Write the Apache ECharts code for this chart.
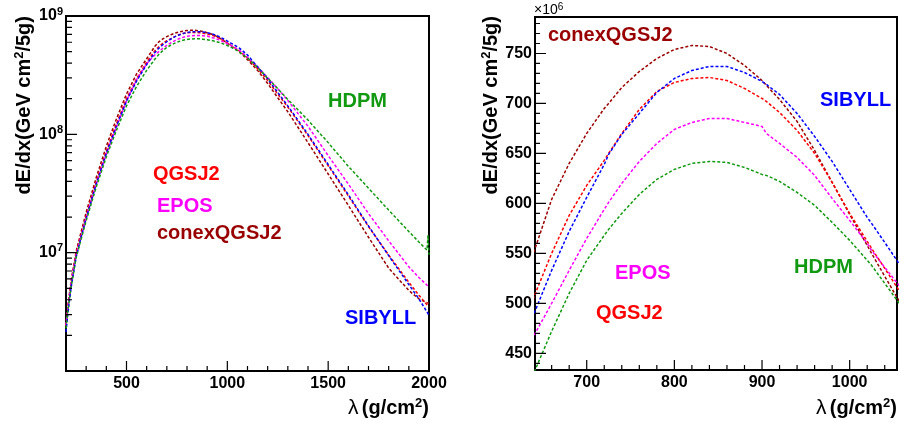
<!DOCTYPE html>
<html>
<head>
<meta charset="utf-8">
<script src="https://cdn.jsdelivr.net/npm/echarts@6/dist/echarts.min.js"></script>
<style>
  html, body { margin: 0; padding: 0; background: #fff; }
  #chart { width: 901px; height: 429px; }
</style>
</head>
<body>
<div id="chart"></div>
<script>
// Slant depth (g/cm^2) at which every profile is sampled
const lambda = [200, 210, 225, 250, 275, 300, 350, 400, 450, 500, 550, 600,
  640, 660, 680, 700, 720, 725, 740, 760, 780, 800, 820, 840, 860, 880, 900, 905,
  920, 940, 960, 980, 1000, 1020, 1025, 1040, 1060, 1100, 1150, 1200, 1250, 1300,
  1400, 1500, 1600, 1700, 1800, 1900, 1950, 1990, 1995, 2000];

// Energy deposit dE/dx per model, in units of 1e6 GeV cm^2/5g
const conexQGSJ2 = [2.45, 3.59, 5.75, 10.2, 15.0, 21.9, 43.2, 79.4, 135, 219, 324, 435,
  552, 604, 640, 670, 695, 700, 716, 732, 745, 754, 758, 757, 750, 738, 723, 718,
  704, 682, 653, 621, 589, 558, 550, 527, 497, 427, 347, 269, 204, 155,
  85.1, 46.2, 25.1, 13.5, 7.41, 4.79, 4.07, 3.78, 3.75, 3.72];
const QGSJ2 = [2.40, 3.47, 5.50, 9.77, 14.1, 20.4, 39.8, 72.4, 123, 200, 295, 407,
  507, 550, 588, 618, 643, 650, 670, 694, 712, 721, 725, 726, 723, 715, 705, 702,
  691, 673, 650, 621, 590, 562, 555, 535, 508, 442, 359, 285, 219, 170,
  97.7, 54.3, 30.2, 16.6, 9.55, 5.62, 4.37, 3.63, 3.56, 3.51];
const EPOS = [2.45, 3.51, 5.50, 9.55, 13.7, 19.7, 38.0, 68.4, 115, 192, 290, 395,
  468, 500, 533, 565, 594, 601, 620, 642, 660, 674, 681, 685, 685, 681, 677, 670,
  660, 646, 628, 605, 583, 560, 553, 536, 514, 447, 372, 302, 243, 193,
  117, 66.1, 38.0, 21.4, 12.6, 7.59, 6.17, 5.32, 5.22, 5.13];
const SIBYLL = [2.14, 3.13, 5.01, 9.12, 13.5, 19.5, 38.0, 69.2, 117, 191, 282, 389,
  490, 533, 572, 606, 639, 649, 669, 690, 711, 725, 733, 737, 737, 731, 722, 719,
  709, 690, 667, 642, 614, 586, 580, 561, 535, 468, 372, 295, 226, 174,
  100, 55.6, 30.9, 16.8, 9.44, 5.37, 4.07, 3.16, 3.05, 2.95];
const HDPM = [2.29, 3.31, 5.13, 9.02, 13.0, 18.6, 35.9, 64.6, 108, 174, 254, 347,
  431, 472, 510, 543, 568, 574, 590, 609, 624, 634, 640, 642, 641, 636, 629, 628,
  622, 611, 598, 581, 563, 543, 538, 520, 496, 442, 367, 299, 243, 197,
  132, 85.1, 53.7, 35.1, 22.9, 15.1, 12.3, 10.5, 14.0, 9.6];

// Tick values (left y axis in units of 1e6)
const leftXTicks = [500, 1000, 1500, 2000];
const leftXMinor = [300, 400, 600, 700, 800, 900, 1100, 1200, 1300, 1400, 1600, 1700, 1800, 1900];
const leftYTicks = [10, 100, 1000];
const leftYMinor = [2, 3, 4, 5, 6, 7, 8, 9, 20, 30, 40, 50, 60, 70, 80, 90,
  200, 300, 400, 500, 600, 700, 800, 900];
const rightXTicks = [700, 800, 900, 1000];
const rightXMinor = [660, 680, 720, 740, 760, 780, 820, 840, 860, 880, 920, 940, 960, 980, 1020, 1040];
const rightYTicks = [450, 500, 550, 600, 650, 700, 750];
const rightYMinor = [440, 460, 470, 480, 490, 510, 520, 530, 540, 560, 570, 580, 590,
  610, 620, 630, 640, 660, 670, 680, 690, 710, 720, 730, 740, 760, 770, 780];

const FONT = "'Liberation Sans', Arial, Helvetica, sans-serif";

// panel layout and axis ranges
const L = { left: 66, top: 16, width: 363, height: 355, xMin: 200, xMax: 2000, yMin: 1, yMax: 1000 };
const R = { left: 535, top: 17, width: 362, height: 353, xMin: 641, xMax: 1054, yMin: 433.3, yMax: 786.5 };

const models = [
  { name: 'conexQGSJ2', values: conexQGSJ2, color: '#990000' },
  { name: 'QGSJ2', values: QGSJ2, color: '#ff0000' },
  { name: 'EPOS', values: EPOS, color: '#ff00ff' },
  { name: 'SIBYLL', values: SIBYLL, color: '#0000ff' },
  { name: 'HDPM', values: HDPM, color: '#119911' }
];

const labelStyle = { fontFamily: FONT, fontWeight: 'bold', fontSize: 16, color: '#000', formatter: (v) => String(v) };
const frameLine = { show: true, onZero: false, lineStyle: { color: '#000', width: 2 } };

function profileSeries(m, xi, yi) {
  return {
    type: 'line', name: m.name, xAxisIndex: xi, yAxisIndex: yi,
    data: lambda.map((x, i) => [x, m.values[i]]),
    showSymbol: false, symbol: 'none', smooth: false, clip: true,
    silent: true,
    lineStyle: { color: m.color, width: 1.5, type: [3, 2] }
  };
}

// Inward tick marks drawn as short segments in data space.
// ext(base, px) returns the data value lying px pixels inward from base.
function tickSeries(xi, yi, side, values, base, ext, len) {
  const data = [];
  values.forEach(v => {
    if (side === 'bottom') data.push([v, base], [v, ext(base, len)], [v, '-']);
    else data.push([base, v], [ext(base, len), v], ['-', v]);
  });
  return {
    type: 'line', xAxisIndex: xi, yAxisIndex: yi, data, silent: true, clip: false, z: 5,
    showSymbol: false, symbol: 'none', connectNulls: false,
    lineStyle: { color: '#000', width: 1.2 }
  };
}
const leftXExt = (b, px) => b + px * (L.xMax - L.xMin) / L.width;
const leftYExt = (b, px) => b * Math.pow(10, px * Math.log10(L.yMax / L.yMin) / L.height);
const rightXExt = (b, px) => b + px * (R.xMax - R.xMin) / R.width;
const rightYExt = (b, px) => b + px * (R.yMax - R.yMin) / R.height;

const sup = (size) => ({ fontFamily: FONT, fontWeight: 'bold', fontSize: size, fill: '#000', verticalAlign: 'top', lineHeight: 12 });

function yTitle(x) {
  return {
    type: 'text', x, y: 16, rotation: Math.PI / 2,
    style: {
      text: '{b|dE/dx(GeV cm}{s|2}{b|/5g)}', align: 'right', verticalAlign: 'middle',
      rich: {
        b: { fontFamily: FONT, fontWeight: 'bold', fontSize: 20, fill: '#000', lineHeight: 22 },
        s: sup(13)
      }
    }
  };
}

function xTitle(x) {
  return {
    type: 'text', x, y: 408,
    style: {
      text: '{l|λ} {b|(g/cm}{s|2}{b|)}', align: 'right', verticalAlign: 'middle',
      rich: {
        l: { fontFamily: FONT, fontSize: 21, fill: '#000', lineHeight: 22 },
        b: { fontFamily: FONT, fontWeight: 'bold', fontSize: 20, fill: '#000', lineHeight: 22 },
        s: sup(13)
      }
    }
  };
}

function tag(text, x, y, color) {
  return {
    type: 'text', x, y,
    style: { text, fill: color, fontFamily: FONT, fontWeight: 'bold', fontSize: 20, align: 'left', verticalAlign: 'middle' }
  };
}

const colorOf = Object.fromEntries(models.map(m => [m.name, m.color]));

const option = {
  animation: false,
  backgroundColor: '#fff',
  grid: [
    { left: L.left, top: L.top, width: L.width, height: L.height, show: true, borderColor: '#000', borderWidth: 2, backgroundColor: 'transparent' },
    { left: R.left, top: R.top, width: R.width, height: R.height, show: true, borderColor: '#000', borderWidth: 2, backgroundColor: 'transparent' }
  ],
  xAxis: [
    {
      gridIndex: 0, position: 'bottom', type: 'value', min: L.xMin, max: L.xMax,
      axisLine: frameLine, splitLine: { show: false }, axisTick: { show: false },
      axisLabel: Object.assign({ customValues: leftXTicks, margin: 5 }, labelStyle)
    },
    {
      gridIndex: 1, position: 'bottom', type: 'value', min: R.xMin, max: R.xMax,
      axisLine: frameLine, splitLine: { show: false }, axisTick: { show: false },
      axisLabel: Object.assign({ customValues: rightXTicks, margin: 5 }, labelStyle)
    }
  ],
  yAxis: [
    {
      gridIndex: 0, position: 'left', type: 'log', logBase: 10, min: L.yMin, max: L.yMax,
      axisLine: frameLine, splitLine: { show: false }, axisTick: { show: false },
      axisLabel: {
        margin: 3,
        formatter: (v) => {
          const e = Math.round(Math.log10(v));
          return e <= 0 ? '' : '{b|10}{s|' + (e + 6) + '}';
        },
        rich: {
          b: { fontFamily: FONT, fontWeight: 'bold', fontSize: 16, color: '#000', lineHeight: 20 },
          s: { fontFamily: FONT, fontWeight: 'bold', fontSize: 11, color: '#000', verticalAlign: 'top', lineHeight: 12 }
        }
      }
    },
    {
      gridIndex: 1, position: 'left', type: 'value', min: R.yMin, max: R.yMax,
      axisLine: frameLine, splitLine: { show: false }, axisTick: { show: false },
      axisLabel: Object.assign({ customValues: rightYTicks, margin: 3 }, labelStyle)
    }
  ],
  series: [
    ...models.map(m => profileSeries(m, 0, 0)),
    ...models.map(m => profileSeries(m, 1, 1)),
    tickSeries(0, 0, 'bottom', leftXTicks, L.yMin, leftYExt, 10),
    tickSeries(0, 0, 'bottom', leftXMinor, L.yMin, leftYExt, 5),
    tickSeries(0, 0, 'left', leftYTicks, L.xMin, leftXExt, 11),
    tickSeries(0, 0, 'left', leftYMinor, L.xMin, leftXExt, 6),
    tickSeries(1, 1, 'bottom', rightXTicks, R.yMin, rightYExt, 10),
    tickSeries(1, 1, 'bottom', rightXMinor, R.yMin, rightYExt, 5),
    tickSeries(1, 1, 'left', rightYTicks, R.xMin, rightXExt, 11),
    tickSeries(1, 1, 'left', rightYMinor, R.xMin, rightXExt, 5)
  ],
  graphic: [
    yTitle(24), yTitle(491),
    xTitle(429), xTitle(897),
    {
      type: 'text', x: 534, y: 10,
      style: {
        text: '{m|×10}{s|6}', align: 'left', verticalAlign: 'middle',
        rich: {
          m: { fontFamily: FONT, fontSize: 14, fill: '#000', lineHeight: 16 },
          s: { fontFamily: FONT, fontSize: 10, fill: '#000', verticalAlign: 'top', lineHeight: 10 }
        }
      }
    },
    tag('HDPM', 328, 101, colorOf.HDPM),
    tag('QGSJ2', 153, 174, colorOf.QGSJ2),
    tag('EPOS', 157, 206, colorOf.EPOS),
    tag('conexQGSJ2', 157, 233, colorOf.conexQGSJ2),
    tag('SIBYLL', 345, 318, colorOf.SIBYLL),
    tag('conexQGSJ2', 548, 35, colorOf.conexQGSJ2),
    tag('SIBYLL', 820, 100, colorOf.SIBYLL),
    tag('EPOS', 615, 273, colorOf.EPOS),
    tag('HDPM', 794, 267, colorOf.HDPM),
    tag('QGSJ2', 596, 313, colorOf.QGSJ2)
  ]
};

const chart = echarts.init(document.getElementById('chart'), null, { renderer: 'canvas' });
chart.setOption(option);
</script>
</body>
</html>
